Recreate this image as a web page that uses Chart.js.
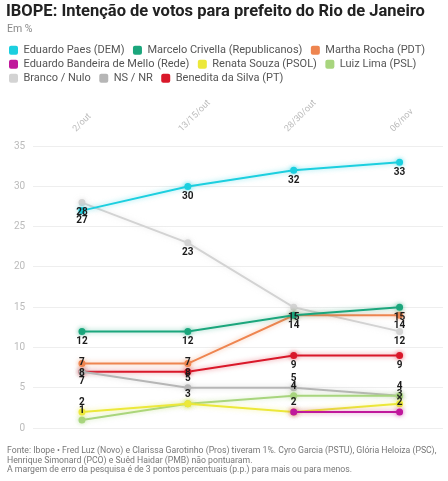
<!DOCTYPE html>
<html>
<head>
<meta charset="utf-8">
<script src="https://cdn.jsdelivr.net/npm/chart.js@4.4.1/dist/chart.umd.min.js"></script>
<style>
  html, body { margin: 0; padding: 0; background: #fff; }
  #wrap { width: 448px; height: 481px; position: relative; }
</style>
</head>
<body>
<div id="wrap"><canvas id="grafico"></canvas></div>
<script>
// Pesquisas IBOPE (datas)
const pesquisas = ['2/out', '13/15/out', '28/30/out', '06/nov'];

// Intenção de voto (%)
const paes = [27, 30, 32, 33];
const crivella = [12, 12, 14, 15];
const martha = [8, 8, 14, 14];
const bandeira = [null, null, 2, 2];
const renata = [2, 3, 2, 3];
const lima = [1, 3, 4, 4];
const brancoNulo = [28, 23, 15, 12];
const nsNr = [7, 5, 5, 4];
const benedita = [7, 7, 9, 9];

const yMin = 0, yMax = 35, yPasso = 5;

const unidade = 'Em %';
const notas = [
  'Fonte: Ibope • Fred Luz (Novo) e Clarissa Garotinho (Pros) tiveram 1%. Cyro Garcia (PSTU), Glória Heloiza (PSC),',
  'Henrique Simonard (PCO) e Suêd Haidar (PMB) não pontuaram.',
  'A margem de erro da pesquisa é de 3 pontos percentuais (p.p.) para mais ou para menos.'
];

Chart.defaults.font.family = 'Roboto, "Noto Sans", sans-serif';

function serie(nome, valores, cor, lado) {
  return {
    label: nome,
    data: valores.map((v, i) => ({ x: i, y: v })),
    borderColor: cor,
    backgroundColor: cor,
    pointBackgroundColor: cor,
    pointBorderColor: cor,
    borderWidth: 2,
    pointRadius: 2.5,
    pointHoverRadius: 3,
    tension: 0,
    lado: lado
  };
}

// brilho suave atrás das linhas
const brilho = {
  id: 'brilho',
  beforeDatasetDraw(chart, args) {
    const ds = chart.data.datasets[args.index];
    chart.ctx.save();
    chart.ctx.shadowColor = ds.borderColor + '88';
    chart.ctx.shadowBlur = 5;
  },
  afterDatasetDraw(chart) {
    chart.ctx.restore();
  }
};

// rótulos dos valores, escondendo os que se sobrepõem
const rotulos = {
  id: 'rotulos',
  afterDatasetsDraw(chart) {
    const ctx = chart.ctx;
    const usados = [];
    const colide = c => usados.some(b => b.l < c.r && c.l < b.r && b.t < c.b && c.t < b.b);
    ctx.save();
    ctx.font = 'bold 10px Roboto';
    ctx.textAlign = 'center';
    ctx.textBaseline = 'middle';
    ctx.fillStyle = '#1b1b1b';
    chart.data.datasets.forEach((ds, i) => {
      const meta = chart.getDatasetMeta(i);
      meta.data.forEach((pt, j) => {
        const v = ds.data[j].y;
        if (v == null) return;
        const txt = String(v);
        const w = ctx.measureText(txt).width;
        const opcoes = ds.lado === 'cima' ? [-9] : ds.lado === 'auto' ? [10, -9] : [10];
        for (const d of opcoes) {
          const y = pt.y + d;
          const caixa = { l: pt.x - w / 2, r: pt.x + w / 2, t: y - 2, b: y + 2 };
          if (!colide(caixa)) {
            usados.push(caixa);
            ctx.fillText(txt, pt.x, y);
            break;
          }
        }
      });
    });
    ctx.restore();
  }
};

// "Em %" sob o título e notas de rodapé
const textos = {
  id: 'textos',
  afterDraw(chart) {
    const ctx = chart.ctx;
    ctx.save();
    ctx.textBaseline = 'middle';
    ctx.font = '10.5px Roboto';
    ctx.fillStyle = '#888';
    ctx.fillText(unidade, 7, chart.titleBlock.bottom - 12);
    ctx.font = '8.7px Roboto';
    ctx.fillStyle = '#777';
    notas.forEach((t, i) => ctx.fillText(t, 7, chart.height - 30 + i * 9.5));
    ctx.restore();
  }
};

const ctx = document.getElementById('grafico').getContext('2d');
const grafico = new Chart(ctx, {
  type: 'line',
  data: {
    datasets: [
      serie('Eduardo Paes (DEM)', paes, '#1ccfdf', 'baixo'),
      serie('Marcelo Crivella (Republicanos)', crivella, '#1ba67c', 'baixo'),
      serie('Martha Rocha (PDT)', martha, '#ee8550', 'baixo'),
      serie('Eduardo Bandeira de Mello (Rede)', bandeira, '#c0189c', 'cima'),
      serie('Renata Souza (PSOL)', renata, '#ece83a', 'cima'),
      serie('Luiz Lima (PSL)', lima, '#a8d57e', 'cima'),
      serie('Branco / Nulo', brancoNulo, '#d3d3d3', 'baixo'),
      serie('NS / NR', nsNr, '#b6b6b6', 'cima'),
      serie('Benedita da Silva (PT)', benedita, '#d9182a', 'auto')
    ]
  },
  options: {
    responsive: true,
    maintainAspectRatio: false,
    animation: false,
    layout: { padding: { left: 6, right: 0, bottom: 53 } },
    plugins: {
      title: {
        display: true,
        text: 'IBOPE: Intenção de votos para prefeito do Rio de Janeiro',
        align: 'start',
        color: '#222',
        font: { size: 16.5, weight: 'bold' },
        padding: { top: 2, bottom: 20 }
      },
      legend: {
        align: 'start',
        labels: {
          boxWidth: 9,
          boxHeight: 9,
          padding: 3,
          color: '#555',
          font: { size: 11 },
          useBorderRadius: true,
          borderRadius: 2,
          generateLabels: c => Chart.defaults.plugins.legend.labels.generateLabels(c)
            .map(l => ({ ...l, text: l.text + '  ', lineWidth: 0 }))
        }
      },
      tooltip: { enabled: false }
    },
    scales: {
      x: {
        type: 'linear',
        position: 'top',
        min: -0.46,
        max: 3.41,
        grid: { display: false },
        border: { display: false },
        afterBuildTicks: s => { s.ticks = pesquisas.map((_, i) => ({ value: i })); },
        ticks: {
          color: '#bbb',
          font: { size: 9 },
          minRotation: 45,
          maxRotation: 45,
          padding: 4,
          callback: v => pesquisas[v]
        }
      },
      y: {
        min: yMin,
        max: yMax,
        grid: { color: '#eeeeee', drawTicks: false },
        border: { display: false },
        ticks: {
          stepSize: yPasso,
          color: '#bbb',
          font: { size: 10 },
          padding: 8
        }
      }
    }
  },
  plugins: [brilho, rotulos, textos]
});
</script>
</body>
</html>
